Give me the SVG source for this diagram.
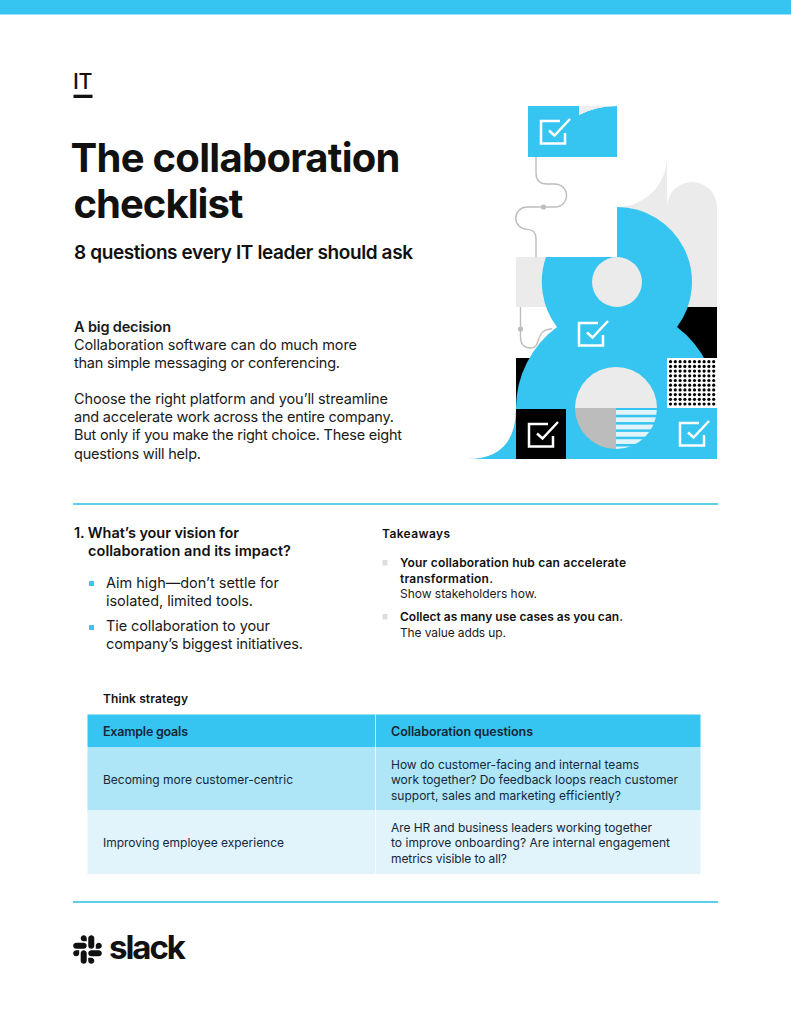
<svg xmlns="http://www.w3.org/2000/svg" xmlns:xlink="http://www.w3.org/1999/xlink" width="791" height="1024" viewBox="0 0 791 1024">
<style>
text{font-family:"Inter","Liberation Sans",sans-serif;fill:#111}
.r{font-weight:400}.m{font-weight:500}.s{font-weight:600}.b{font-weight:700}
.body{font-size:14.5px;fill:#1a1a1a}
.q{font-size:14.5px;font-weight:600}
.li{font-size:14.5px;fill:#1a1a1a}
.small{font-size:12px;fill:#1a1a1a}
.sb{font-size:12px;font-weight:600}
.t{font-size:12px;fill:#14263a}
.tb{font-size:12.5px;font-weight:600;fill:#14263a}
.rule{fill:#5fcfe8}
.blue{fill:#36c5f0}.grey{fill:#ebebeb}
.conn{fill:none;stroke:#bdbdbd;stroke-width:1.4}
.chk{fill:none;stroke:#fff;stroke-width:2.500}
</style>
<defs>
<g id="check"><path class="chk" d="M20 1H1V23.500H25V13"/><path class="chk" d="M9 10.500L14.500 15.500L30 -1"/></g>
<clipPath id="stripeClip"><path d="M616 408H657A41 41 0 0 1 616 449Z"/></clipPath>
<g id="dotrow">
<circle cx="670.500" r="1.600"/><circle cx="675.300" r="1.600"/><circle cx="680.100" r="1.600"/><circle cx="684.900" r="1.600"/><circle cx="689.700" r="1.600"/><circle cx="694.500" r="1.600"/><circle cx="699.300" r="1.600"/><circle cx="704.100" r="1.600"/><circle cx="708.900" r="1.600"/><circle cx="713.700" r="1.600"/>
</g>
</defs>
<rect width="791" height="1024" fill="#fff"/>
<rect id="top-band" class="blue" width="791" height="14.500"/>
<g id="header">
<text x="73" y="88.500" font-size="21.500" class="m" textLength="19.500">IT</text>
<rect x="73.500" y="94.700" width="19" height="3.300" fill="#111"/>
<text x="70.500" y="172" font-size="40" class="b" textLength="330">The collaboration</text>
<text x="73.500" y="218" font-size="40" class="b" textLength="170">checklist</text>
<text x="74" y="259" font-size="19" class="s" textLength="339">8 questions every IT leader should ask</text>
</g>
<g id="intro">
<text x="74" y="332" class="body s" textLength="97">A big decision</text>
<text x="74" y="350" class="body" textLength="283">Collaboration software can do much more</text>
<text x="74" y="368" class="body" textLength="266">than simple messaging or conferencing.</text>
<text x="74" y="404" class="body" textLength="314">Choose the right platform and you’ll streamline</text>
<text x="74" y="422" class="body" textLength="320">and accelerate work across the entire company.</text>
<text x="74" y="440" class="body" textLength="328">But only if you make the right choice. These eight</text>
<text x="74" y="458.500" class="body" textLength="127">questions will help.</text>
</g>
<g id="illustration">
<path class="grey" d="M667 157A50 50 0 0 1 617 207V257H516V307H717V207A25 25 0 0 0 667 207Z"/>
<rect x="667" y="307" width="50" height="51" fill="#000"/>
<rect x="516" y="358" width="50" height="51" fill="#000"/>
<g id="connectors">
<path class="conn" d="M536 157V173Q536 184 547 184H555A11.500 11.500 0 0 1 555 207H527A11.200 11.200 0 0 0 527 229.400Q536 229.400 536 239V257"/>
<circle cx="543.500" cy="207" r="2.600" fill="#bdbdbd"/>
<path class="conn" d="M520.500 307V337Q520.500 348 531 348C542 348 534 329 552 329"/>
<circle cx="520.500" cy="329" r="2.600" fill="#bdbdbd"/>
</g>
<path class="blue" d="M617 207A75 75 0 0 1 677 327A101 101 0 0 1 717 408V459H467Q516 459 516 408A101 101 0 0 1 557 327A75 75 0 0 1 546 257H617Z"/>
<circle class="grey" cx="617" cy="282" r="25"/>
<path class="blue" d="M528 106H579V115Q596 106 617 106V157H528Z"/>
<path d="M579 106V115Q596 106 617 106Z" fill="#efefef"/>
<rect x="516" y="409" width="50" height="50" fill="#000"/>
<rect x="667" y="358" width="50" height="50" fill="#fff"/>
<g id="dots" fill="#000">
<use xlink:href="#dotrow" href="#dotrow" y="361.700"/>
<use xlink:href="#dotrow" href="#dotrow" y="366.400"/>
<use xlink:href="#dotrow" href="#dotrow" y="371.100"/>
<use xlink:href="#dotrow" href="#dotrow" y="375.800"/>
<use xlink:href="#dotrow" href="#dotrow" y="380.500"/>
<use xlink:href="#dotrow" href="#dotrow" y="385.200"/>
<use xlink:href="#dotrow" href="#dotrow" y="389.900"/>
<use xlink:href="#dotrow" href="#dotrow" y="394.600"/>
<use xlink:href="#dotrow" href="#dotrow" y="399.300"/>
<use xlink:href="#dotrow" href="#dotrow" y="404"/>
</g>
<path class="grey" d="M575 408A41 41 0 0 1 657 408Z"/>
<path d="M575 408H616V449A41 41 0 0 1 575 408Z" fill="#bcbcbc"/>
<g clip-path="url(#stripeClip)" fill="#e1f4fb">
<rect x="616" y="410" width="42" height="4.800"/>
<rect x="616" y="417.300" width="42" height="4.800"/>
<rect x="616" y="424.600" width="42" height="4.800"/>
<rect x="616" y="431.900" width="42" height="4.800"/>
<rect x="616" y="439.200" width="42" height="4.800"/>
<rect x="616" y="446.500" width="42" height="4.800"/>
</g>
<use xlink:href="#check" href="#check" x="540" y="120"/>
<use xlink:href="#check" href="#check" x="578" y="322"/>
<use xlink:href="#check" href="#check" x="528" y="423"/>
<use xlink:href="#check" href="#check" x="679" y="422"/>
</g>
<rect class="rule" x="73" y="503" width="645" height="2"/>
<g id="question">
<text x="74" y="538" class="q" textLength="165">1. What’s your vision for</text>
<text x="88" y="556" class="q" textLength="203">collaboration and its impact?</text>
<rect x="89" y="581" width="5" height="5" fill="#3ec5e8"/>
<text x="106" y="588" class="li" textLength="173">Aim high—don’t settle for</text>
<text x="106" y="606" class="li" textLength="147">isolated, limited tools.</text>
<rect x="89" y="625" width="5" height="5" fill="#3ec5e8"/>
<text x="106" y="631" class="li" textLength="164">Tie collaboration to your</text>
<text x="106" y="649" class="li" textLength="197">company’s biggest initiatives.</text>
</g>
<g id="takeaways">
<text x="382" y="538" class="sb" textLength="68">Takeaways</text>
<rect x="382.500" y="560" width="5" height="5.500" fill="#ddd"/>
<text x="400" y="567" class="sb" textLength="226">Your collaboration hub can accelerate</text>
<text x="400" y="583" class="sb" textLength="93">transformation.</text>
<text x="400" y="598" class="small" textLength="137">Show stakeholders how.</text>
<rect x="382.500" y="614" width="5" height="5.500" fill="#ddd"/>
<text x="400" y="621" class="sb" textLength="223">Collect as many use cases as you can.</text>
<text x="400" y="637" class="small" textLength="106">The value adds up.</text>
</g>
<g id="table">
<text x="103" y="703" class="sb" textLength="85">Think strategy</text>
<rect class="blue" x="87.500" y="714.500" width="613" height="32.500"/>
<rect x="87.500" y="747" width="613" height="63.500" fill="#aee6f8"/>
<rect x="87.500" y="810.500" width="613" height="63.500" fill="#e1f3fb"/>
<rect x="375" y="714.500" width="1" height="159.500" fill="#fff" fill-opacity="0.7"/>
<text x="103" y="736" class="tb" textLength="85">Example goals</text>
<text x="391" y="736" class="tb" textLength="142">Collaboration questions</text>
<text x="103" y="784" class="t" textLength="190">Becoming more customer-centric</text>
<text x="103" y="847" class="t" textLength="181">Improving employee experience</text>
<text x="391" y="769" class="t" textLength="248">How do customer-facing and internal teams</text>
<text x="391" y="784" class="t" textLength="287">work together? Do feedback loops reach customer</text>
<text x="391" y="800" class="t" textLength="230">support, sales and marketing efficiently?</text>
<text x="391" y="832" class="t" textLength="261">Are HR and business leaders working together</text>
<text x="391" y="847" class="t" textLength="279">to improve onboarding? Are internal engagement</text>
<text x="391" y="863" class="t" textLength="116">metrics visible to all?</text>
</g>
<rect class="rule" x="73" y="901" width="645" height="2"/>
<g id="logo">
<g transform="translate(73 935) scale(0.228)" fill="#111">
<path d="M27.200 80c0 7.300-5.900 13.200-13.200 13.200C6.700 93.200.8 87.300.8 80c0-7.300 5.900-13.200 13.200-13.200h13.200V80zm6.600 0c0-7.300 5.900-13.200 13.200-13.200 7.300 0 13.200 5.900 13.200 13.200v33c0 7.300-5.900 13.200-13.200 13.200-7.300 0-13.200-5.900-13.200-13.200V80z"/>
<path d="M47 27c-7.300 0-13.200-5.900-13.200-13.200C33.800 6.500 39.700.6 47 .6c7.300 0 13.200 5.900 13.200 13.200V27H47zm0 6.700c7.300 0 13.200 5.900 13.200 13.200 0 7.300-5.900 13.200-13.200 13.200H13.900C6.600 60.100.7 54.200.7 46.900c0-7.300 5.900-13.200 13.200-13.200H47z"/>
<path d="M99.900 46.900c0-7.300 5.900-13.200 13.200-13.200 7.300 0 13.200 5.900 13.200 13.200 0 7.300-5.900 13.200-13.200 13.200H99.900V46.900zm-6.600 0c0 7.300-5.900 13.200-13.200 13.200-7.300 0-13.200-5.900-13.200-13.200V13.800C66.900 6.500 72.800.6 80.100.6c7.300 0 13.200 5.900 13.200 13.200v33.100z"/>
<path d="M80.100 99.800c7.300 0 13.200 5.900 13.200 13.200 0 7.300-5.900 13.200-13.200 13.200-7.300 0-13.200-5.900-13.200-13.200V99.800h13.200zm0-6.600c-7.300 0-13.200-5.900-13.200-13.200 0-7.300 5.900-13.200 13.200-13.200h33.100c7.300 0 13.200 5.900 13.200 13.200 0 7.300-5.900 13.200-13.200 13.200H80.100z"/>
</g>
<text x="109" y="959" font-size="33" class="b" textLength="77">slack</text>
</g>
</svg>
